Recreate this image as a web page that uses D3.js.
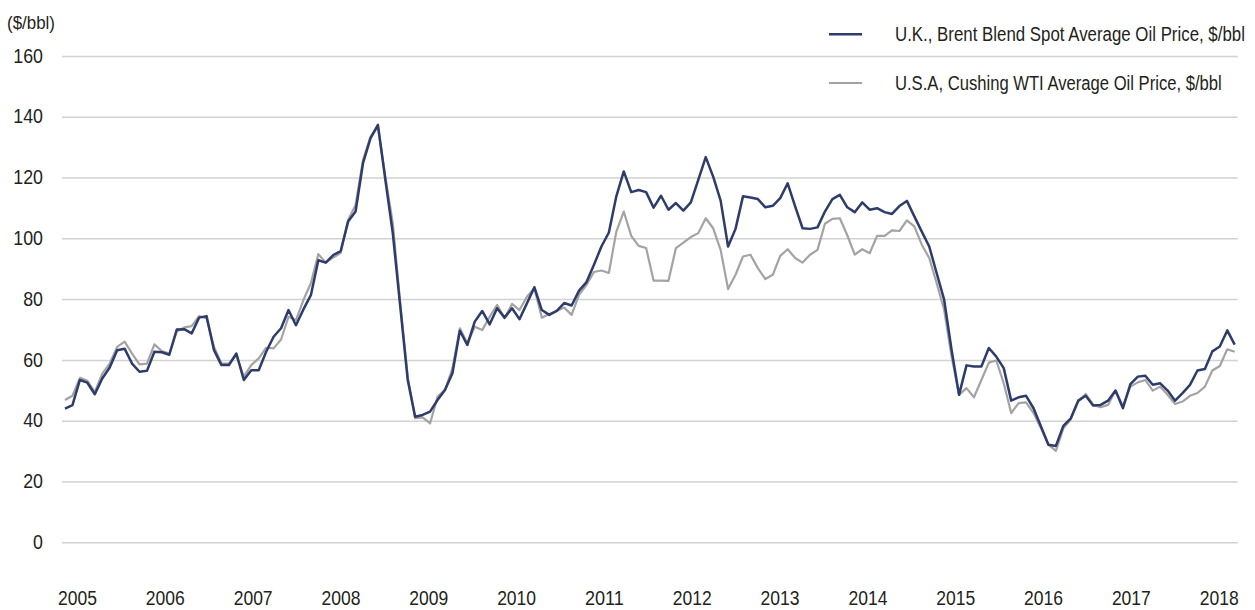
<!DOCTYPE html>
<html><head><meta charset="utf-8">
<script src="https://cdn.jsdelivr.net/npm/d3@7"></script>
<style>
body{margin:0;background:#fff}
svg{display:block}
text{font-family:"Liberation Sans Narrow","Arial Narrow","Liberation Sans",Arial,sans-serif;fill:#231f20}
</style>
</head><body>
<svg id="c" width="1255" height="610"></svg>
<script>
const years = ["2005","2006","2007","2008","2009","2010","2011","2012","2013","2014","2015","2016","2017","2018"];
const yTicks = [0,20,40,60,80,100,120,140,160];
const unitLabel = "($/bbl)";
const seriesNames = ["U.K., Brent Blend Spot Average Oil Price, $/bbl","U.S.A, Cushing WTI Average Oil Price, $/bbl"];

// Monthly averages, Jan 2005 – Feb 2018
const brent = [
 44.0, 45.1, 53.4, 52.5, 48.7, 53.9, 57.5, 63.2, 63.7, 58.8, 56.1, 56.4,
 62.7, 62.5, 61.7, 70.0, 70.1, 68.7, 73.9, 74.4, 63.2, 58.3, 58.3, 62.1,
 53.4, 56.6, 56.6, 62.7, 67.6, 70.4, 76.4, 71.4, 76.6, 81.3, 92.8, 92.0,
 94.5, 95.8, 105.5, 108.8, 124.7, 132.9, 137.3, 119.2, 101.6, 77.5, 53.4, 41.3,
 41.9, 43.0, 46.8, 50.1, 55.6, 69.6, 64.9, 72.6, 76.1, 71.7, 77.0, 73.9,
 77.0, 73.4, 78.6, 83.9, 76.4, 74.8, 76.1, 78.7, 77.9, 82.8, 85.6, 91.3,
 97.3, 101.9, 113.8, 122.0, 115.2, 115.9, 115.2, 110.1, 114.0, 109.4, 111.6, 109.1,
 111.8, 119.2, 126.7, 120.3, 112.4, 97.3, 103.1, 113.8, 113.4, 112.9, 110.2, 110.7,
 113.2, 118.1, 110.5, 103.3, 103.1, 103.6, 108.8, 112.9, 114.3, 110.2, 108.6, 111.8,
 109.4, 109.9, 108.6, 108.0, 110.6, 112.3, 107.2, 102.2, 97.3, 88.5, 79.8, 63.3,
 48.5, 58.2, 57.8, 57.8, 63.9, 61.1, 57.3, 46.6, 47.7, 48.2, 44.1, 38.1,
 32.1, 31.7, 38.3, 40.8, 46.6, 48.2, 45.0, 45.2, 46.6, 49.9, 44.1, 52.0,
 54.5, 54.8, 51.8, 52.3, 49.9, 46.6, 49.1, 51.8, 56.5, 57.0, 62.8, 64.4,
 69.7, 65.0
];
const wti = [
 46.8, 48.2, 54.1, 53.1, 49.5, 55.5, 58.8, 64.3, 66.0, 62.1, 58.5, 58.8,
 65.1, 62.9, 62.1, 69.3, 70.7, 71.1, 74.4, 73.6, 64.3, 58.8, 58.8, 61.6,
 54.5, 58.3, 60.5, 64.0, 63.8, 66.7, 74.2, 73.1, 79.7, 85.2, 94.8, 92.0,
 93.7, 95.2, 106.0, 111.0, 125.8, 133.4, 136.7, 120.3, 104.9, 78.6, 54.5, 40.8,
 41.1, 39.1, 47.9, 50.1, 57.2, 70.4, 65.5, 70.9, 69.8, 74.2, 78.1, 73.7,
 78.4, 76.4, 80.8, 83.6, 73.9, 75.1, 76.1, 77.2, 74.8, 81.4, 84.7, 88.9,
 89.4, 88.6, 102.2, 108.8, 100.8, 97.5, 96.8, 86.1, 86.1, 86.0, 96.8, 98.6,
 100.4, 101.7, 106.6, 103.3, 96.2, 83.3, 88.0, 94.0, 94.6, 90.2, 86.6, 88.0,
 94.2, 96.4, 93.5, 92.0, 94.6, 96.2, 104.8, 106.4, 106.6, 101.0, 94.6, 96.4,
 95.1, 100.8, 100.8, 102.6, 102.4, 105.9, 103.9, 97.9, 93.5, 85.2, 76.5, 61.1,
 48.5, 50.7, 47.7, 53.4, 59.1, 59.8, 52.3, 42.5, 45.8, 46.0, 42.5, 37.5,
 32.1, 30.1, 37.5, 40.5, 46.3, 48.8, 45.2, 44.4, 45.2, 49.9, 44.9, 51.2,
 52.6, 53.4, 49.9, 51.2, 48.5, 45.5, 46.3, 48.2, 49.1, 51.2, 56.5, 58.0,
 63.5, 62.7
];
const colors = ["#2d3c6b", "#a3a3a3"];

const svg = d3.select("#c");
const x = d3.scaleLinear().domain([0, brent.length - 1]).range([65, 1234.7]);
const y = d3.scaleLinear().domain([0, 160]).range([542.3, 55.9]);
const xYear = d3.scalePoint().domain(years).range([77.5, 1219.2]);

// squeeze a text horizontally (condensed look) so its width equals w, anchored at its x
function fit(sel, wFn) {
  sel.each(function(d, i) {
    const t = d3.select(this);
    const w = typeof wFn === "function" ? wFn(d, i) : wFn;
    const nat = this.getComputedTextLength();
    const s = nat > 0 ? w / nat : 1;
    const ax = +t.attr("x") || 0;
    t.attr("transform", `translate(${ax},0) scale(${s},1) translate(${-ax},0)`);
  });
}

// grid + y labels
const gridLeft = 62, gridRight = 1237.7;
const gy = svg.append("g").attr("transform", `translate(${gridLeft},0)`)
  .call(d3.axisLeft(y).tickValues(yTicks).tickSize(-(gridRight - gridLeft)).tickPadding(19));
gy.attr("font-family", null).attr("font-size", null);
gy.select(".domain").remove();
gy.selectAll(".tick line").attr("stroke", "#d2d2d2").attr("stroke-width", 1.5);
gy.selectAll(".tick text").attr("font-size", 19.5).attr("fill", "#231f20")
  .call(fit, d => String(d).length * 9.9);

// unit label
svg.append("text").attr("x", 7).attr("y", 29).attr("font-size", 19)
  .text(unitLabel).call(fit, 48);

// year labels
svg.append("g").selectAll("text").data(years).join("text")
  .attr("x", d => xYear(d)).attr("y", 605.5)
  .attr("text-anchor", "middle").attr("font-size", 19.5)
  .text(d => d).call(fit, 39);

// lines
const line = d3.line().x((d, i) => x(i)).y(d => y(d));
svg.append("path").datum(wti).attr("d", line).attr("fill", "none")
  .attr("stroke", colors[1]).attr("stroke-width", 2.2).attr("stroke-linejoin", "round");
svg.append("path").datum(brent).attr("d", line).attr("fill", "none")
  .attr("stroke", colors[0]).attr("stroke-width", 2.5).attr("stroke-linejoin", "round");

// legend
const legY = [34.3, 83];
const legW = [350, 327];
const leg = svg.append("g").selectAll("g").data(seriesNames).join("g")
  .attr("transform", (d, i) => `translate(0,${legY[i]})`);
leg.append("line").attr("x1", 829).attr("x2", 862).attr("y1", 0).attr("y2", 0)
  .attr("stroke", (d, i) => colors[i]).attr("stroke-width", (d, i) => i ? 2.2 : 2.5);
leg.append("text").attr("x", 895).attr("y", 0).attr("dy", "0.36em").attr("font-size", 19.5)
  .text(d => d).call(fit, (d, i) => legW[i]);
</script>
</body></html>
